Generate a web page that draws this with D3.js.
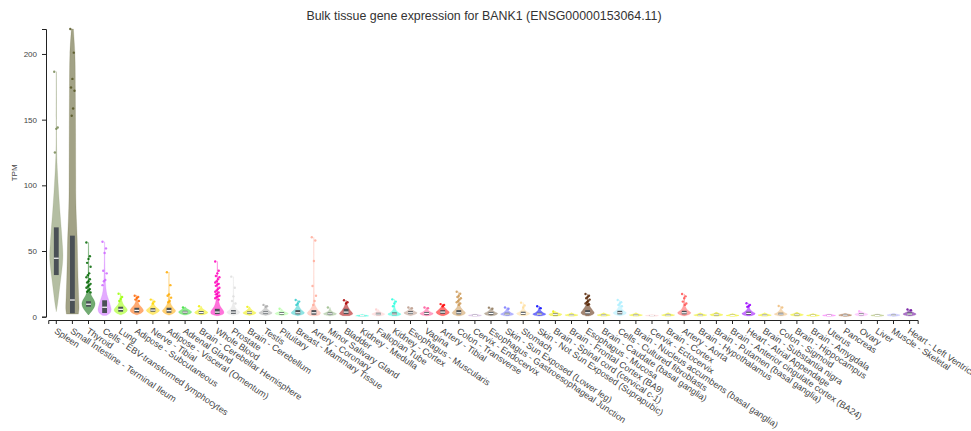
<!DOCTYPE html>
<html>
<head>
<meta charset="utf-8">
<script src="https://cdn.jsdelivr.net/npm/d3@7"></script>
<style>
  html, body { margin: 0; padding: 0; background: #fff; }
  svg { display: block; font-family: Arial, "Liberation Sans", sans-serif; }
</style>
</head>
<body>
<svg id="chart" width="971" height="431"></svg>
<script>
const title = "Bulk tissue gene expression for BANK1 (ENSG00000153064.11)";
const yLabel = "TPM";
const yTicks = [0, 50, 100, 150, 200];

const tissues = [
  "Spleen", "Small Intestine - Terminal Ileum", "Thyroid", "Cells - EBV-transformed lymphocytes",
  "Lung", "Adipose - Subcutaneous", "Nerve - Tibial", "Adipose - Visceral (Omentum)",
  "Adrenal Gland", "Brain - Cerebellar Hemisphere", "Whole Blood", "Prostate",
  "Brain - Cerebellum", "Testis", "Pituitary", "Breast - Mammary Tissue",
  "Artery - Coronary", "Minor Salivary Gland", "Bladder", "Kidney - Medulla",
  "Fallopian Tube", "Kidney - Cortex", "Esophagus - Muscularis", "Vagina",
  "Artery - Tibial", "Colon - Transverse", "Cervix - Endocervix", "Esophagus - Gastroesophageal Junction",
  "Skin - Sun Exposed (Lower leg)", "Stomach", "Skin - Not Sun Exposed (Suprapubic)", "Brain - Spinal cord (cervical c-1)",
  "Brain - Frontal Cortex (BA9)", "Esophagus - Mucosa", "Brain - Caudate (basal ganglia)", "Cells - Cultured fibroblasts",
  "Brain - Nucleus accumbens (basal ganglia)", "Cervix - Ectocervix", "Brain - Cortex", "Artery - Aorta",
  "Brain - Hypothalamus", "Brain - Putamen (basal ganglia)", "Brain - Anterior cingulate cortex (BA24)", "Heart - Atrial Appendage",
  "Brain - Substantia nigra", "Colon - Sigmoid", "Brain - Hippocampus", "Brain - Amygdala",
  "Uterus", "Pancreas", "Ovary", "Liver", "Muscle - Skeletal", "Heart - Left Ventricle"
];

const tissueColors = [
  "#778855", "#555522", "#006600", "#CC66FF",
  "#99FF00", "#FF6600", "#FFD700", "#FFAA00",
  "#33DD33", "#EEEE00", "#FF00BB", "#DDDDDD",
  "#EEEE00", "#AAAAAA", "#AAFF99", "#33CCCC",
  "#FFAA99", "#99BB88", "#AA0000", "#22FFDD",
  "#FFCCCC", "#22FFDD", "#BB9988", "#FF5599",
  "#FF0000", "#CC9955", "#CCAADD", "#8B7355",
  "#7777FF", "#FFDD99", "#0000FF", "#EEEE00",
  "#EEEE00", "#552200", "#EEEE00", "#AAEEFF",
  "#EEEE00", "#FFCCCC", "#EEEE00", "#FF5555",
  "#EEEE00", "#EEEE00", "#EEEE00", "#9900FF",
  "#EEEE00", "#EEBB77", "#EEEE00", "#EEEE00",
  "#FF66FF", "#995522", "#FFAAFF", "#AABB66", "#AAAAFF", "#660099"
];

const medians = [
  44.5, 12.7, 9.5, 7.2, 5.6, 4.8, 5.0, 4.6, 3.5, 3.2, 3.5, 3.5, 3.0, 3.0, 2.5, 3.0,
  3.0, 2.2, 3.5, 0.8, 2.0, 2.0, 3.0, 2.5, 3.5, 3.0, 1.0, 2.5, 2.0, 2.5, 2.0, 1.8,
  1.2, 3.0, 1.2, 3.0, 1.2, 0.8, 1.2, 3.0, 1.2, 1.5, 1.0, 2.5, 1.2, 2.0, 1.5, 1.0,
  1.0, 1.2, 1.8, 1.0, 1.2, 2.0
];
const q1s = [
  31.7, 2.6, 7.6, 2.8, 3.8, 3.2, 3.8, 3.0, 2.5, 2.2, 2.0, 2.2, 2.0, 2.0, 1.6, 1.8,
  1.5, 1.4, 2.0, 0.5, 1.2, 1.2, 2.0, 1.5, 2.2, 1.8, 0.6, 1.5, 1.2, 1.5, 1.2, 1.0,
  0.8, 1.8, 0.8, 1.8, 0.8, 0.5, 0.8, 1.8, 0.8, 0.9, 0.6, 1.5, 0.8, 1.2, 0.9, 0.6,
  0.6, 0.7, 1.1, 0.6, 0.7, 1.2
];
const q3s = [
  68.0, 61.7, 11.8, 12.5, 7.6, 6.8, 6.5, 6.8, 4.5, 4.3, 6.0, 5.0, 4.0, 4.0, 3.5, 5.0,
  5.0, 3.2, 6.0, 1.2, 3.0, 3.2, 4.2, 3.6, 5.0, 5.0, 1.5, 3.6, 3.0, 3.8, 3.0, 2.6,
  1.8, 5.0, 1.8, 4.5, 1.8, 1.2, 1.8, 4.5, 1.8, 2.2, 1.5, 3.8, 1.8, 3.0, 2.2, 1.5,
  1.5, 1.8, 2.6, 1.5, 1.8, 3.2
];

const outliers = [
  [186.5, 144, 143, 125],
  [219, 201, 181, 174.5, 172, 158.5, 153],
  [56.5, 46, 44, 41, 38, 33, 31.5, 30, 28.5, 27, 26, 25, 24, 23, 22, 21, 20, 19, 18.5],
  [57, 52, 48.5, 35, 33, 28, 27, 24],
  [17.5, 15, 13.5, 12],
  [16, 15, 14.2, 13, 12],
  [13, 11.5, 10],
  [33.8, 24, 17, 16, 14.5, 12, 11],
  [7],
  [8],
  [42, 35, 33, 31, 30, 28.5, 27, 26, 25, 24.5, 23.5, 22, 21, 20, 19, 18.5, 17.5, 17, 16, 15.5, 15, 14, 13],
  [30.5, 22, 15.5, 12, 10],
  [7.5],
  [9, 8, 7.5],
  [6],
  [12.7, 11.5, 10, 9],
  [60.5, 58, 42.4, 23.4, 16, 12, 9],
  [7],
  [12.5, 11, 10],
  [],
  [5.5],
  [13.2, 11.5, 10, 8],
  [7, 6.5],
  [7, 6.5],
  [9.6, 9, 8],
  [19, 17.5, 16, 15, 14, 13, 12, 11, 10, 9],
  [],
  [6.9, 6],
  [7, 6],
  [10.7, 8.5, 7],
  [8, 6.5],
  [4],
  [],
  [17.3, 16, 15, 14, 13, 12, 11, 10, 9.5, 9],
  [],
  [12.7, 11, 10, 9, 8],
  [],
  [],
  [],
  [17.3, 15.5, 14, 11.5, 10, 9],
  [],
  [],
  [],
  [10.2, 9, 8, 7.5],
  [],
  [8.1, 7],
  [],
  [],
  [],
  [],
  [4.2],
  [],
  [],
  [5.5, 5]
];

// violin outlines: [TPM value, relative density width]
const violinShapes = [
  [[3.8,0],[10,0.2],[20,0.45],[30,0.7],[40,0.93],[47,1],[55,0.92],[65,0.78],[80,0.55],[95,0.35],[110,0.18],[125,0.06],[150,0.03],[186.5,0.02]],
  [[2,0.9],[6,1],[15,0.95],[30,0.85],[45,0.78],[60,0.72],[75,0.6],[90,0.52],[110,0.5],[140,0.48],[170,0.45],[200,0.38],[219,0.15]],
  [[1.3,0],[4,0.45],[7,0.85],[10,1],[13,0.8],[16,0.45],[20,0.2],[25,0.1],[35,0.06],[45,0.04],[56.5,0.02]],
  [[1,0.3],[3,0.85],[5.5,1],[9,0.85],[13,0.6],[17,0.35],[22,0.2],[30,0.1],[40,0.06],[57,0.02]],
  [[1.5,0.1],[3,0.7],[5,1],[7,0.8],[9,0.45],[12,0.2],[15,0.08],[17.8,0.02]],
  [[1.5,0.1],[3,0.75],[4.8,1],[7,0.75],[9,0.4],[11,0.2],[14,0.08],[16.5,0.02]],
  [[1.5,0.1],[3.5,0.8],[5,1],[6.5,0.7],[8,0.35],[10.5,0.12],[13.5,0.02]],
  [[1.2,0.1],[3,0.8],[4.5,1],[6.5,0.7],[9,0.35],[12,0.15],[17,0.06],[25,0.03],[34,0.02]],
  [[1.2,0.1],[2.5,0.8],[3.5,1],[4.8,0.75],[6,0.3],[7.5,0.02]],
  [[1.2,0.1],[2.2,0.8],[3.2,1],[4.5,0.7],[6,0.25],[8,0.02]],
  [[0.8,0.2],[2,0.9],[3.5,1],[5.5,0.8],[8,0.45],[11,0.25],[15,0.12],[20,0.07],[28,0.04],[42,0.02]],
  [[1,0.1],[2.2,0.8],[3.5,1],[5,0.65],[7,0.3],[10,0.1],[15,0.05],[30.5,0.02]],
  [[1,0.1],[2,0.8],[3,1],[4,0.7],[5.5,0.3],[7.5,0.02]],
  [[1,0.1],[2,0.8],[3,1],[4,0.7],[5.5,0.35],[7,0.12],[9,0.02]],
  [[0.8,0.1],[1.6,0.8],[2.5,1],[3.5,0.6],[4.5,0.2],[6,0.02]],
  [[0.8,0.1],[2,0.85],[3,1],[4.5,0.7],[6.5,0.35],[9,0.12],[12.7,0.02]],
  [[0.6,0.1],[1.5,0.85],[3,1],[5,0.65],[7.5,0.3],[10,0.12],[15,0.06],[25,0.03],[40,0.02],[60.5,0.015]],
  [[0.6,0.1],[1.4,0.8],[2.2,1],[3.2,0.6],[4.5,0.2],[7,0.02]],
  [[0.8,0.5],[2,1],[3.5,0.85],[5,0.6],[7,0.35],[9.5,0.15],[12.5,0.02]],
  [[0.2,0.3],[0.6,1],[1.0,0.8],[1.4,0.3],[1.8,0.02]],
  [[0.5,0.2],[1.2,0.8],[2,1],[3,0.6],[4,0.25],[5.5,0.02]],
  [[0.5,0.3],[1.2,0.85],[2,1],[3.2,0.6],[5,0.25],[7,0.1],[10,0.04],[13.2,0.02]],
  [[0.8,0.1],[2,0.8],[3,1],[4.2,0.6],[5.5,0.25],[7,0.02]],
  [[0.6,0.1],[1.5,0.8],[2.5,1],[3.6,0.6],[5,0.25],[7,0.02]],
  [[0.8,0.2],[2.2,0.85],[3.5,1],[5,0.7],[6.5,0.4],[8,0.15],[9.6,0.02]],
  [[0.6,0.2],[1.8,0.85],[3,1],[5,0.65],[7,0.3],[10,0.12],[14,0.06],[19,0.02]],
  [[0.2,0.2],[0.6,0.8],[1.0,1],[1.5,0.6],[2,0.02]],
  [[0.6,0.1],[1.5,0.8],[2.5,1],[3.6,0.6],[5,0.25],[6.9,0.02]],
  [[0.5,0.1],[1.2,0.8],[2,1],[3,0.6],[4.5,0.25],[7,0.02]],
  [[0.5,0.1],[1.5,0.8],[2.5,1],[3.8,0.55],[5.5,0.2],[8,0.06],[10.7,0.02]],
  [[0.5,0.1],[1.2,0.8],[2,1],[3,0.6],[4.5,0.25],[8,0.02]],
  [[0.4,0.1],[1,0.8],[1.8,1],[2.6,0.6],[3.3,0.25],[4,0.02]],
  [[0.3,0.1],[0.8,0.8],[1.2,1],[1.8,0.6],[2.4,0.25],[3,0.02]],
  [[0.5,0.2],[1.8,0.85],[3,1],[5,0.75],[7,0.45],[9,0.25],[12,0.1],[17.3,0.02]],
  [[0.3,0.1],[0.8,0.8],[1.2,1],[1.8,0.6],[2.4,0.25],[3,0.02]],
  [[0.6,0.1],[1.8,0.8],[3,1],[4.5,0.6],[6.5,0.3],[9,0.1],[12.7,0.02]],
  [[0.3,0.1],[0.8,0.8],[1.2,1],[1.8,0.6],[2.4,0.25],[3,0.02]],
  [[0.2,0.2],[0.5,0.8],[0.8,1],[1.2,0.5],[1.6,0.02]],
  [[0.3,0.1],[0.8,0.8],[1.2,1],[1.8,0.6],[2.4,0.25],[3,0.02]],
  [[0.6,0.1],[1.8,0.8],[3,1],[4.5,0.65],[6.5,0.3],[9,0.12],[13,0.05],[17.3,0.02]],
  [[0.3,0.1],[0.8,0.8],[1.2,1],[1.8,0.6],[2.4,0.25],[3,0.02]],
  [[0.3,0.1],[0.9,0.8],[1.5,1],[2.2,0.6],[2.9,0.25],[3.5,0.02]],
  [[0.2,0.1],[0.6,0.8],[1,1],[1.5,0.6],[2,0.25],[2.5,0.02]],
  [[0.5,0.1],[1.5,0.85],[2.5,1],[3.8,0.6],[5.5,0.25],[8,0.06],[10.2,0.02]],
  [[0.3,0.1],[0.8,0.8],[1.2,1],[1.8,0.6],[2.4,0.25],[3,0.02]],
  [[0.5,0.1],[1.2,0.8],[2,1],[3,0.6],[4.5,0.25],[6.5,0.06],[8.1,0.02]],
  [[0.3,0.1],[0.9,0.8],[1.5,1],[2.2,0.6],[2.9,0.25],[3.5,0.02]],
  [[0.2,0.1],[0.6,0.8],[1,1],[1.5,0.6],[2,0.25],[2.5,0.02]],
  [[0.2,0.1],[0.6,0.8],[1,1],[1.5,0.6],[2,0.02]],
  [[0.2,0.2],[0.7,0.85],[1.2,1],[1.8,0.6],[2.5,0.02]],
  [[0.4,0.1],[1.1,0.8],[1.8,1],[2.6,0.6],[3.3,0.25],[4.2,0.02]],
  [[0.2,0.1],[0.6,0.8],[1,1],[1.5,0.6],[2,0.02]],
  [[0.2,0.1],[0.7,0.8],[1.2,1],[1.8,0.6],[2.5,0.02]],
  [[0.5,0.1],[1.2,0.8],[2,1],[3.2,0.6],[4.2,0.25],[5.5,0.02]]
];

// ---------- drawing ----------
const svg = d3.select("#chart");
const plot = { left: 48.25, right: 917.65, top: 29, bottom: 316.7 };

const yMax = d3.max(outliers.flat());
const y = d3.scaleLinear().domain([0, yMax]).range([plot.bottom, plot.top]);
const x = d3.scaleBand().domain(tissues).range([plot.left, plot.right]).padding(0);
const w = d3.scaleLinear().domain([0, 1]).range([0, x.bandwidth() * 0.41]);
const boxW = x.bandwidth() * 0.3;

svg.append("text")
  .attr("x", 484).attr("y", 20)
  .attr("text-anchor", "middle")
  .attr("font-size", 12.4)
  .attr("fill", "#333")
  .text(title);

svg.append("text")
  .attr("transform", `translate(17,${(plot.top + plot.bottom) / 2}) rotate(-90)`)
  .attr("text-anchor", "middle")
  .attr("font-size", 8)
  .attr("fill", "#444")
  .text(yLabel);

const gY = svg.append("g")
  .attr("transform", "translate(46,0)")
  .call(d3.axisLeft(y).tickValues(yTicks).tickSize(4).tickSizeOuter(4).tickPadding(5));
gY.selectAll("text").attr("font-size", 8).attr("fill", "#444").attr("font-family", null);
gY.selectAll("path, line").attr("stroke", "#222");

const gX = svg.append("g")
  .attr("transform", `translate(0,${plot.bottom + 3.3})`)
  .call(d3.axisBottom(x).tickSize(4).tickSizeOuter(4));
gX.selectAll("path, line").attr("stroke", "#222");
gX.selectAll("text")
  .attr("font-size", 9)
  .attr("font-family", null)
  .attr("fill", "#444")
  .attr("text-anchor", "start")
  .attr("x", 0).attr("y", 0).attr("dy", "0.72em")
  .attr("transform", "translate(1,7) rotate(34)");

const area = d3.area()
  .curve(d3.curveCatmullRom.alpha(0.5));

const groups = svg.append("g").selectAll("g.violin")
  .data(tissues.map((t, i) => ({ t, i })))
  .join("g").attr("class", "violin");

groups.each(function ({ t, i }) {
  const g = d3.select(this);
  const cx = x(t) + x.bandwidth() / 2;
  const col = tissueColors[i];
  area.x0(d => cx - w(d[1])).x1(d => cx + w(d[1])).y(d => y(d[0]));
  g.append("path")
    .attr("d", area(violinShapes[i]))
    .attr("fill", col).attr("fill-opacity", 0.55)
    .attr("stroke", col).attr("stroke-opacity", 0.35).attr("stroke-width", 0.5);

  g.selectAll("circle").data(outliers[i]).join("circle")
    .attr("cx", (d, k) => cx + (((k * 5) % 7) - 3) * 0.7)
    .attr("cy", d => y(d))
    .attr("r", 1.2)
    .attr("fill", col).attr("fill-opacity", 0.85);

  g.append("rect")
    .attr("x", cx - boxW / 2).attr("width", boxW)
    .attr("y", y(q3s[i])).attr("height", Math.max(0.8, y(q1s[i]) - y(q3s[i])))
    .attr("fill", "#4a5056");
  g.append("line")
    .attr("x1", cx - boxW / 2).attr("x2", cx + boxW / 2)
    .attr("y1", y(medians[i])).attr("y2", y(medians[i]))
    .attr("stroke", "#fff").attr("stroke-width", 1.2);
});
</script>
</body>
</html>
